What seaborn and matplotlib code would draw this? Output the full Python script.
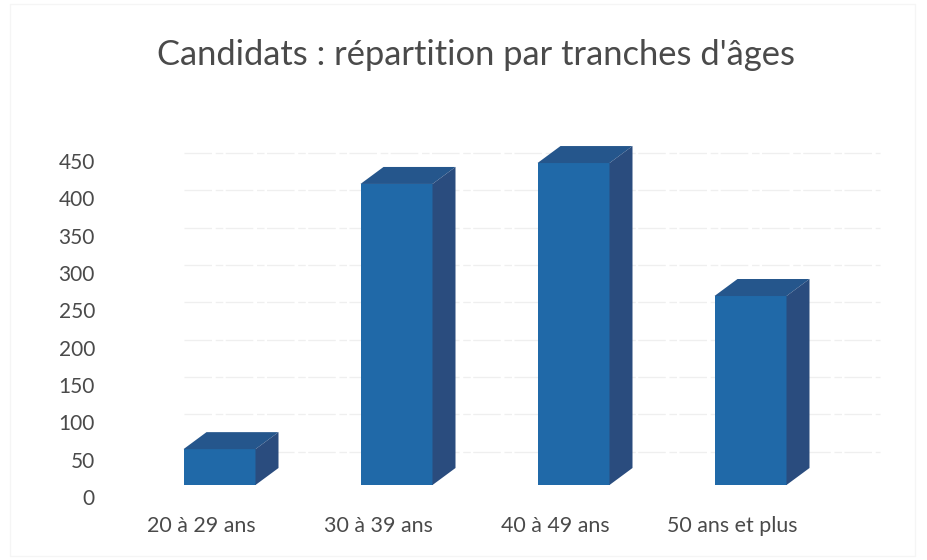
import matplotlib
matplotlib.use("Agg")
import matplotlib.pyplot as plt
import matplotlib.transforms as mtrans
from matplotlib.patches import Polygon, Rectangle
import pandas as pd
import seaborn as sns

# Chart values
tranches = ["20 à 29 ans", "30 à 39 ans", "40 à 49 ans", "50 ans et plus"]
candidats = [48, 403, 431, 253]
graduations = [0, 50, 100, 150, 200, 250, 300, 350, 400, 450]

df = pd.DataFrame({"tranche": tranches, "candidats": candidats})

sns.set_theme(style="white")
plt.rcParams["font.family"] = ["Lato", "DejaVu Sans"]

W, H = 927, 560
fig = plt.figure(figsize=(W / 100, H / 100), dpi=100)
ax = fig.add_axes([120 / W, (H - 485) / H, 760 / W, 355 / H])

FRONT = "#2069A8"
TOP = "#25568C"
SIDE = "#2A4C7E"
TEXT = "#4A4A4A"

sns.barplot(data=df, x="tranche", y="candidats", color=FRONT, saturation=1,
            width=72 / 177, linewidth=0, ax=ax, zorder=3)

px_x = 1 / 177    # one pixel in x data units
px_y = 1 / 0.747  # one pixel in y data units
ax.set_xlim(-99.5 * px_x, 660.5 * px_x)
ax.set_ylim(0, 355 * px_y)

# Fake 3D depth on each bar
dx = 23 * px_x
dy = 17 * px_y
for bar in list(ax.patches):
    x0 = bar.get_x()
    x1 = x0 + bar.get_width()
    h = bar.get_height()
    ax.add_patch(Polygon([(x0, h), (x1, h), (x1 + dx, h + dy), (x0 + dx, h + dy)],
                         facecolor=TOP, edgecolor="none", zorder=3))
    ax.add_patch(Polygon([(x1, 0), (x1 + dx, dy), (x1 + dx, h + dy), (x1, h)],
                         facecolor=SIDE, edgecolor="none", zorder=3))

# Gridlines of the back wall sit a little below the front scale
grid_shift = mtrans.ScaledTranslation(0, -4 / 100, fig.dpi_scale_trans)
for v in graduations[1:]:
    ax.plot([-0.2, 3.73], [v, v], color="#EFEFEF", lw=0.9, ls=(0, (22, 3, 6, 2)),
            transform=ax.transData + grid_shift, zorder=1, clip_on=False)

sns.despine(ax=ax, left=True, bottom=True, top=True, right=True)
ax.set_xlabel("")
ax.set_ylabel("")
ax.set_yticks(graduations)
ax.set_yticklabels([str(v) for v in graduations])
ax.tick_params(axis="both", length=0, labelsize=15, labelcolor=TEXT)
ax.tick_params(axis="x", labelsize=15.4)
ax.tick_params(axis="y", pad=18)

# Labels are offset from the front plane, as in the original 3D chart
y_shift = mtrans.ScaledTranslation(0, -12 / 100, fig.dpi_scale_trans)
for lab in ax.get_yticklabels():
    lab.set_transform(lab.get_transform() + y_shift)
x_shift = mtrans.ScaledTranslation(-18 / 100, -26 / 100, fig.dpi_scale_trans)
for lab in ax.get_xticklabels():
    lab.set_transform(lab.get_transform() + x_shift)

fig.text(476 / W, 1 - 55 / H, "Candidats : répartition par tranches d'âges",
         ha="center", va="center", fontsize=24.8, color=TEXT)

# Faint frame of the scanned chart
fig.add_artist(Rectangle((10 / W, 4 / H), 905 / W, 552 / H, transform=fig.transFigure,
                         fill=False, edgecolor="#F5F5F5", lw=1))

fig.savefig("out.png", dpi=100)
